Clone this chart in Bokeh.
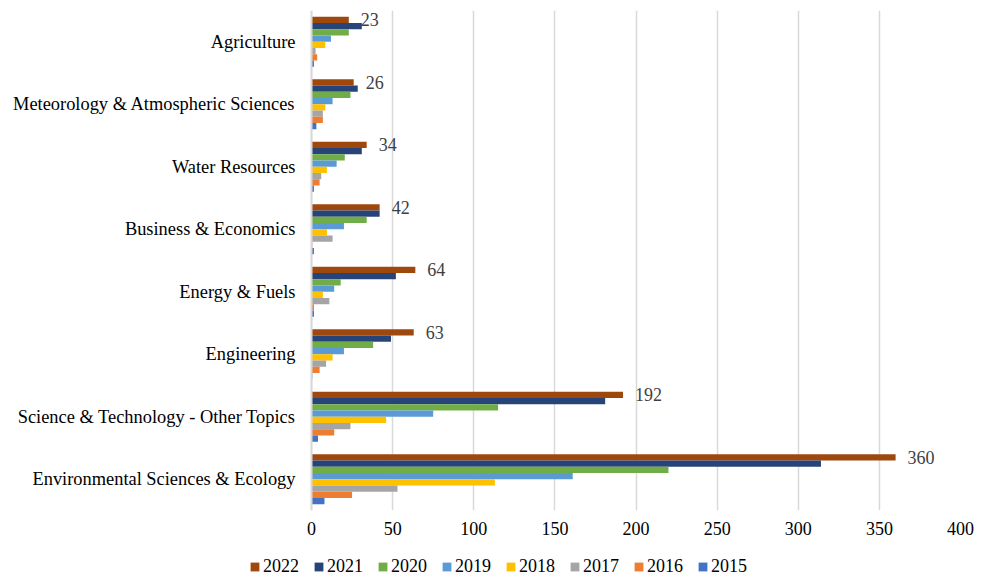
from bokeh.plotting import figure
from bokeh.layouts import column
from bokeh.models import ColumnDataSource, Legend, LegendItem, FixedTicker, Span
from bokeh.transform import dodge
from bokeh.core.properties import value
from bokeh.embed import file_html
from bokeh.resources import INLINE

# Research areas, top to bottom
categories = [
    "Agriculture",
    "Meteorology & Atmospheric Sciences",
    "Water Resources",
    "Business & Economics",
    "Energy & Fuels",
    "Engineering",
    "Science & Technology - Other Topics",
    "Environmental Sciences & Ecology",
]

years = ["2022", "2021", "2020", "2019", "2018", "2017", "2016", "2015"]

# Publication counts per year, in the same order as categories
y2022 = [23, 26, 34, 42, 64, 63, 192, 360]
y2021 = [31, 28.5, 31, 42, 52, 49, 181, 314]
y2020 = [23, 24, 20.5, 34, 18, 38, 115, 220]
y2019 = [12, 13, 15.5, 20, 14, 20, 75, 161]
y2018 = [8.5, 8.5, 9.5, 9.5, 7, 13, 46, 113]
y2017 = [2.5, 7, 6, 13, 11, 9, 24, 53]
y2016 = [3.5, 7, 5, 0.5, 1.5, 5, 14, 25]
y2015 = [1.5, 3, 1.5, 1.5, 1.5, 0.5, 4, 8]

x_ticks = [0, 50, 100, 150, 200, 250, 300, 350, 400]

series = [y2022, y2021, y2020, y2019, y2018, y2017, y2016, y2015]
colors = ["#9E480E", "#264478", "#70AD47", "#5B9BD5",
          "#FFC000", "#A5A5A5", "#ED7D31", "#4472C4"]

FONT = "'Liberation Serif'"

data = {"cat": categories}
for yr, vals in zip(years, series):
    data[yr] = vals
source = ColumnDataSource(data)

# ---- main bar chart ----
# The frame spans the full width; the negative part of the x range holds
# the category names, so the value axis starts where the bars begin.
PX_PER_UNIT = 649 / 400
LEFT_ROOM = 311 / PX_PER_UNIT

p = figure(
    width=988, height=542,
    y_range=list(reversed(categories)),
    x_range=(-LEFT_ROOM, 400),
    output_backend="svg",
    toolbar_location=None,
    y_axis_location=None,
    min_border_left=0, min_border_right=28,
    min_border_top=10, min_border_bottom=32,
    outline_line_color=None,
)

bar_h = 0.1
for k, (yr, col) in enumerate(zip(years, colors)):
    off = 0.35 - k * bar_h
    p.hbar(
        y=dodge("cat", off, range=p.y_range),
        left=0, right=yr, height=bar_h,
        source=source, fill_color=col, line_color=None,
    )

# Category axis line
p.add_layout(Span(location=0, dimension="height",
                  line_color="#D9D9D9", line_width=2))

# Category names
p.text(
    x=0, y="cat", text="cat", source=source,
    x_offset=-16, text_align="right", text_baseline="middle",
    text_font=value(FONT), text_font_size="18.4px", text_color="#000000",
)

# Value labels for the most recent year
p.text(
    x="2022", y=dodge("cat", 0.35, range=p.y_range), text="lbl",
    source=ColumnDataSource({"cat": categories, "2022": y2022,
                             "lbl": [str(v) for v in y2022]}),
    x_offset=12, text_baseline="middle", text_align="left",
    text_font=value(FONT), text_font_size="18px", text_color="#404040",
)

p.xaxis.ticker = FixedTicker(ticks=x_ticks)
p.xaxis.axis_line_color = None
p.xaxis.major_tick_line_color = None
p.xaxis.minor_tick_line_color = None
p.xaxis.major_tick_out = 0
p.xaxis.major_label_text_font = FONT
p.xaxis.major_label_text_font_size = "18px"
p.xaxis.major_label_text_color = "#000000"
p.xaxis.major_label_standoff = 11

p.xgrid.grid_line_color = "#D9D9D9"
p.xgrid.grid_line_width = 1.5
p.ygrid.grid_line_color = None

# ---- legend strip ----
leg = figure(
    width=988, height=35,
    x_range=(0, 1), y_range=(0, 1),
    output_backend="svg",
    toolbar_location=None,
    min_border=0, min_border_right=28, outline_line_color=None,
    x_axis_type=None, y_axis_type=None,
)
leg.xgrid.visible = False
leg.ygrid.visible = False

swatches = []
for yr, col in zip(years, colors):
    swatches.append(leg.quad(left=yr, right=yr, bottom=yr, top=yr, source=source,
                             fill_color=col, line_color=None, visible=False))

legend = Legend(
    items=[LegendItem(label=yr, renderers=[r], index=0)
           for yr, r in zip(years, swatches)],
    orientation="horizontal",
    location=(249, 0),
    glyph_width=11, glyph_height=11,
    label_standoff=3, spacing=14,
    label_text_font=FONT, label_text_font_size="18px",
    label_text_color="#000000",
    border_line_color=None, background_fill_alpha=0,
    inactive_fill_alpha=0,
    padding=0, margin=0,
)
leg.add_layout(legend, "center")

layout = column(p, leg, spacing=0)
open("out.html", "w").write(file_html(layout, INLINE))
